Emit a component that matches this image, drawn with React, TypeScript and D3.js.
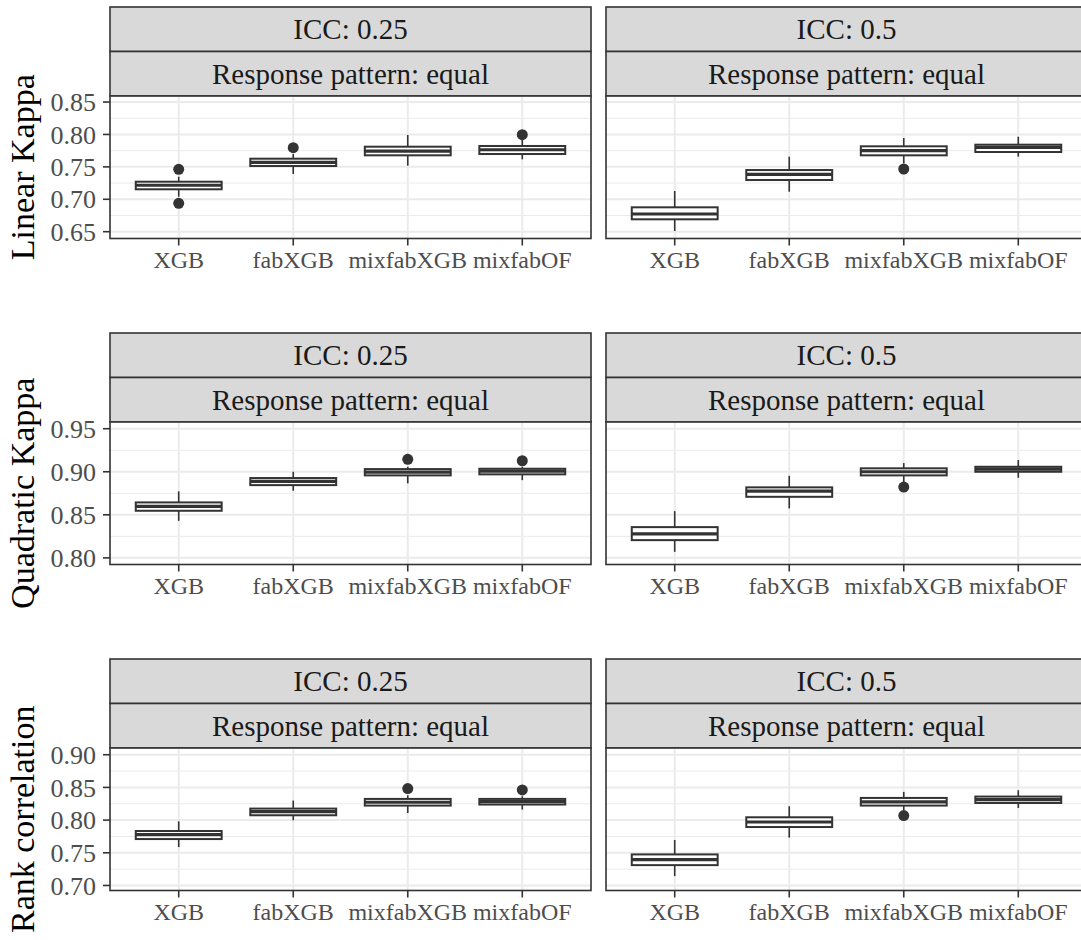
import React from "react";
import * as d3 from "d3";

// ---------- data ----------
const methods = ["XGB", "fabXGB", "mixfabXGB", "mixfabOF"];
const iccLabels = ["ICC: 0.25", "ICC: 0.5"];
const patternLabel = "Response pattern: equal";
const metricTitles = ["Linear Kappa", "Quadratic Kappa", "Rank correlation"];

const yTicksLinear = [0.65, 0.7, 0.75, 0.8, 0.85];
const yTicksQuadratic = [0.8, 0.85, 0.9, 0.95];
const yTicksRank = [0.7, 0.75, 0.8, 0.85, 0.9];
const yLimitsLinear = [0.6395, 0.8593];
const yLimitsQuadratic = [0.7923, 0.9578];
const yLimitsRank = [0.6923, 0.9103];

// box stats per method: [lowerWhisker, q1, median, q3, upperWhisker]
const linear025 = [
  [0.704, 0.7154, 0.7216, 0.7271, 0.7348],
  [0.739, 0.7513, 0.757, 0.7626, 0.7698],
  [0.7518, 0.7678, 0.7744, 0.7811, 0.7991],
  [0.7616, 0.7698, 0.7764, 0.7822, 0.7914],
];
const linear025Outliers = [[0.7462, 0.6938], [0.7795], [], [0.7996]];
const linear05 = [
  [0.6511, 0.6691, 0.6773, 0.6876, 0.7128],
  [0.7117, 0.7297, 0.7385, 0.7451, 0.7657],
  [0.7555, 0.7678, 0.7749, 0.7817, 0.7945],
  [0.7657, 0.7729, 0.7801, 0.7842, 0.7965],
];
const linear05Outliers = [[], [], [0.7467], []];

const quadratic025 = [
  [0.843, 0.8547, 0.8598, 0.8644, 0.8772],
  [0.8779, 0.8845, 0.8888, 0.8927, 0.9],
  [0.8865, 0.8958, 0.8997, 0.9031, 0.9058],
  [0.8903, 0.897, 0.9008, 0.9035, 0.9058],
];
const quadratic025Outliers = [[], [], [0.9144], [0.9128]];
const quadratic05 = [
  [0.807, 0.8206, 0.8279, 0.8357, 0.8543],
  [0.8574, 0.8709, 0.8776, 0.8819, 0.8953],
  [0.8865, 0.8958, 0.9, 0.904, 0.9101],
  [0.893, 0.9, 0.9031, 0.9058, 0.9136],
];
const quadratic05Outliers = [[], [], [0.8822], []];

const rank025 = [
  [0.7587, 0.771, 0.7778, 0.7833, 0.7982],
  [0.7997, 0.8074, 0.813, 0.8176, 0.8299],
  [0.8109, 0.8222, 0.8273, 0.8324, 0.838],
  [0.8161, 0.8238, 0.8284, 0.8324, 0.8365],
];
const rank025Outliers = [[], [], [0.8483], [0.8462]];
const rank05 = [
  [0.7143, 0.7311, 0.7394, 0.7475, 0.7695],
  [0.7732, 0.7894, 0.7971, 0.8043, 0.8212],
  [0.815, 0.8222, 0.8278, 0.8339, 0.8431],
  [0.8186, 0.8262, 0.8314, 0.836, 0.8457],
];
const rank05Outliers = [[], [], [0.8069], []];

const rows = [
  { title: metricTitles[0], ticks: yTicksLinear, limits: yLimitsLinear, panels: [[linear025, linear025Outliers], [linear05, linear05Outliers]] },
  { title: metricTitles[1], ticks: yTicksQuadratic, limits: yLimitsQuadratic, panels: [[quadratic025, quadratic025Outliers], [quadratic05, quadratic05Outliers]] },
  { title: metricTitles[2], ticks: yTicksRank, limits: yLimitsRank, panels: [[rank025, rank025Outliers], [rank05, rank05Outliers]] },
];

// ---------- layout ----------
const W = 1081;
const H = 940;
const panelLefts = [110, 606];
const panelW = 481;
const rowTops = [7, 333, 659];
const stripH = 44.5;
const plotH = 142.5;
const FONT = "'Liberation Serif', 'Times New Roman', 'DejaVu Serif', serif";
const DARK = "#333333";
const GRID = "#EBEBEB";

function Panel({ left, top, row, panel, showY, colIdx }: any) {
  const plotTop = top + 2 * stripH;
  const plotBottom = plotTop + plotH;
  const x = d3.scalePoint<string>().domain(methods).range([left, left + panelW]).padding(0.6);
  const y = d3.scaleLinear().domain(row.limits).range([plotBottom, plotTop]);
  const step = x.step();
  const boxW = step * 0.75;
  const [stats, outliers] = panel;
  const minors: number[] = [];
  const t = row.ticks;
  const half = (t[1] - t[0]) / 2;
  for (let v = t[0] - half; v <= t[t.length - 1] + half + 1e-9; v += 2 * half) {
    if (v >= row.limits[0] && v <= row.limits[1]) minors.push(v);
  }
  return (
    <g>
      {/* strips */}
      <rect x={left} y={top} width={panelW} height={stripH} fill="#D9D9D9" stroke={DARK} strokeWidth={1.6} />
      <text x={left + panelW / 2} y={top + stripH / 2} dy="0.35em" textAnchor="middle" fontFamily={FONT} fontSize={29} fill="#1A1A1A">
        {iccLabels[colIdx]}
      </text>
      <rect x={left} y={top + stripH} width={panelW} height={stripH} fill="#D9D9D9" stroke={DARK} strokeWidth={1.6} />
      <text x={left + panelW / 2} y={top + stripH * 1.5} dy="0.35em" textAnchor="middle" fontFamily={FONT} fontSize={29} fill="#1A1A1A">
        {patternLabel}
      </text>
      {/* panel background & grid */}
      <rect x={left} y={plotTop} width={panelW} height={plotH} fill="white" />
      {minors.map((v, i) => (
        <line key={"mn" + i} x1={left} x2={left + panelW} y1={y(v)} y2={y(v)} stroke={GRID} strokeWidth={1} />
      ))}
      {row.ticks.map((v: number, i: number) => (
        <line key={"mj" + i} x1={left} x2={left + panelW} y1={y(v)} y2={y(v)} stroke={GRID} strokeWidth={2} />
      ))}
      {methods.map((m) => (
        <line key={"vx" + m} x1={x(m)} x2={x(m)} y1={plotTop} y2={plotBottom} stroke={GRID} strokeWidth={2} />
      ))}
      {/* boxes */}
      {methods.map((m, i) => {
        const [lo, q1, med, q3, hi] = stats[i];
        const cx = x(m)!;
        return (
          <g key={"b" + m}>
            <line x1={cx} x2={cx} y1={y(hi)} y2={y(q3)} stroke={DARK} strokeWidth={1.6} />
            <line x1={cx} x2={cx} y1={y(q1)} y2={y(lo)} stroke={DARK} strokeWidth={1.6} />
            <rect x={cx - boxW / 2} y={y(q3)} width={boxW} height={y(q1) - y(q3)} fill="white" stroke={DARK} strokeWidth={2} />
            <line x1={cx - boxW / 2} x2={cx + boxW / 2} y1={y(med)} y2={y(med)} stroke={DARK} strokeWidth={3.2} />
            {outliers[i].map((o: number, k: number) => (
              <circle key={k} cx={cx} cy={y(o)} r={5.5} fill={DARK} />
            ))}
          </g>
        );
      })}
      {/* border */}
      <rect x={left} y={plotTop} width={panelW} height={plotH} fill="none" stroke={DARK} strokeWidth={1.6} />
      {/* x axis */}
      {methods.map((m) => (
        <g key={"xt" + m}>
          <line x1={x(m)} x2={x(m)} y1={plotBottom} y2={plotBottom + 7} stroke={DARK} strokeWidth={1.6} />
          <text x={x(m)} y={plotBottom + 29} textAnchor="middle" fontFamily={FONT} fontSize={24} fill="#4D4D4D">
            {m}
          </text>
        </g>
      ))}
      {/* y axis */}
      {showY &&
        row.ticks.map((v: number, i: number) => (
          <g key={"yt" + i}>
            <line x1={left - 7} x2={left} y1={y(v)} y2={y(v)} stroke={DARK} strokeWidth={1.6} />
            <text x={left - 14} y={y(v)} dy="0.35em" textAnchor="end" fontFamily={FONT} fontSize={26} fill="#4D4D4D">
              {d3.format(".2f")(v)}
            </text>
          </g>
        ))}
      {showY && (
        <text
          transform={`translate(${34},${(plotTop + plotBottom) / 2}) rotate(-90)`}
          textAnchor="middle"
          fontFamily={FONT}
          fontSize={34}
          fill="black"
        >
          {row.title}
        </text>
      )}
    </g>
  );
}

export default function App() {
  return (
    <svg width={W} height={H} style={{ position: "absolute", left: 0, top: 0, background: "white" }}>
      <rect x={0} y={0} width={W} height={H} fill="white" />
      {rows.map((row, ri) =>
        row.panels.map((panel, ci) => (
          <Panel
            key={ri + "-" + ci}
            left={panelLefts[ci]}
            top={rowTops[ri]}
            row={row}
            panel={panel}
            showY={ci === 0}
            colIdx={ci}
          />
        ))
      )}
    </svg>
  );
}
